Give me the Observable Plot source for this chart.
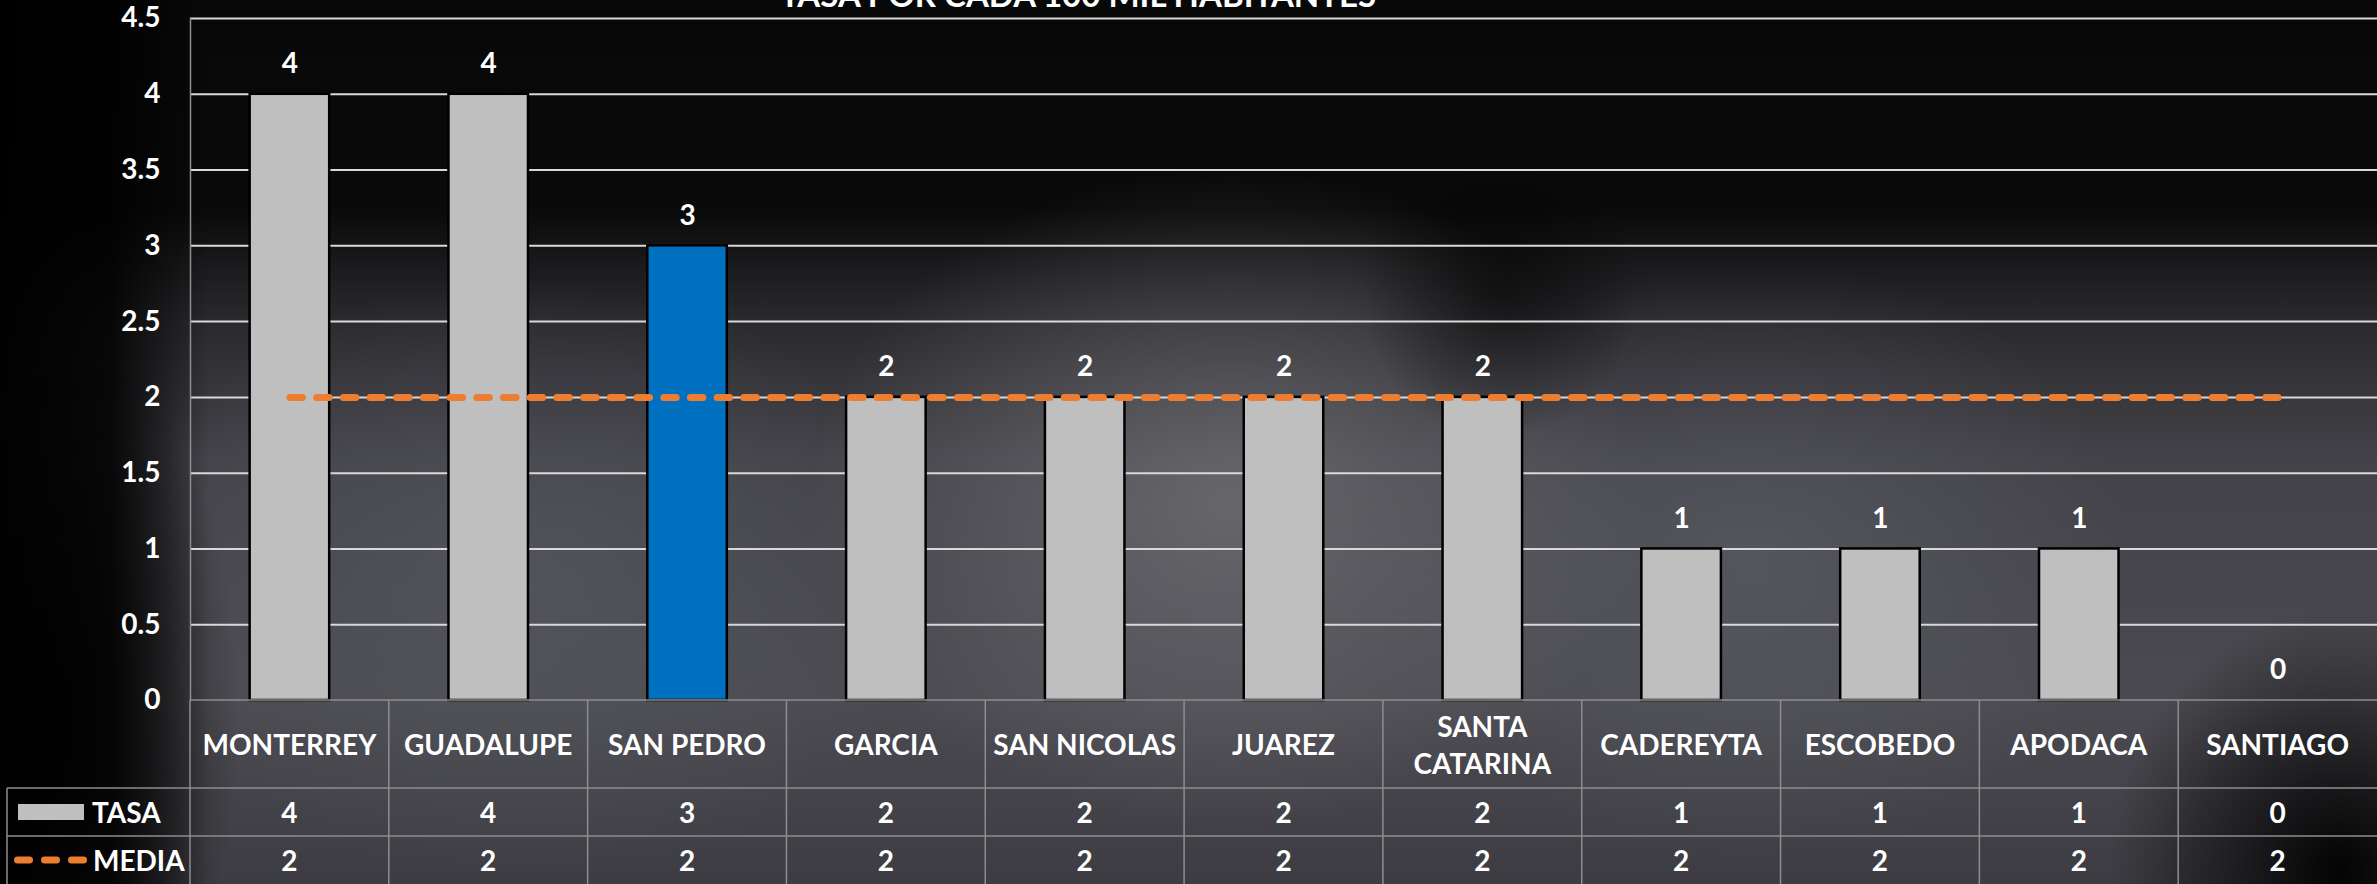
<!DOCTYPE html>
<html><head><meta charset="utf-8">
<script src="https://cdn.jsdelivr.net/npm/d3@7"></script>
<script src="https://cdn.jsdelivr.net/npm/@observablehq/plot@0.6"></script>
<style>
html,body{margin:0;padding:0;background:#050505;}
#wrap{position:relative;width:2377px;height:884px;overflow:hidden;
background:
 radial-gradient(ellipse 200px 400px at 40px 720px, rgba(0,0,0,0.9), rgba(0,0,0,0) 100%),
 linear-gradient(to right, rgba(0,0,0,0.97) 0px, rgba(0,0,0,0.85) 110px, rgba(0,0,0,0) 210px),
 radial-gradient(ellipse 230px 260px at 2340px 870px, rgba(0,0,0,0.95), rgba(0,0,0,0)),
 radial-gradient(ellipse 140px 150px at 1500px 290px, rgba(0,0,0,0.55), rgba(0,0,0,0)),
 radial-gradient(ellipse 420px 330px at 1230px 500px, rgba(125,125,130,0.6), rgba(0,0,0,0)),
 radial-gradient(ellipse 380px 300px at 1750px 560px, rgba(100,100,110,0.5), rgba(0,0,0,0)),
 radial-gradient(ellipse 420px 300px at 520px 580px, rgba(95,95,105,0.5), rgba(0,0,0,0)),
 linear-gradient(to bottom, #080808 0px, #0a0a0a 210px, #2a2a2e 320px, #424248 460px, #4a4a50 700px, #3c3c42 884px);}
#chart{position:absolute;left:0;top:0;}
#title{position:absolute;left:678px;width:800px;top:-22px;text-align:center;color:#fff;font:bold 33px Lato, sans-serif;line-height:1;white-space:nowrap;}
</style></head><body>
<div id="wrap"><div id="chart"></div><div id="title"></div></div>
<script>
const titulo = "TASA POR CADA 100 MIL HABITANTES";
const municipios = ["MONTERREY","GUADALUPE","SAN PEDRO","GARCIA","SAN NICOLAS","JUAREZ","SANTA CATARINA","CADEREYTA","ESCOBEDO","APODACA","SANTIAGO"];
const tasa = [4,4,3,2,2,2,2,1,1,1,0];
const media = [2,2,2,2,2,2,2,2,2,2,2];
const yTicks = [0,0.5,1,1.5,2,2.5,3,3.5,4,4.5];
const series = ["TASA","MEDIA"];
const destacado = "SAN PEDRO";

const data = municipios.map((m,i)=>({municipio:m, tasa:tasa[i], media:media[i]}));
document.getElementById("title").textContent = titulo;

const FONT = "Lato, 'Open Sans', sans-serif";
const gris = "#bfbfbf", azul = "#0070c0", naranja = "#ed7d31", linea = "#8e8e8e";

const plot = Plot.plot({
  width: 2377, height: 884,
  marginTop: 18, marginBottom: 184, marginLeft: 190, marginRight: 0,
  style: {background: "transparent", color: "#fff", fontFamily: FONT, fontWeight: "bold", overflow: "visible"},
  x: {domain: municipios, paddingInner: 0.6, paddingOuter: 0.3, round: false, axis: null},
  y: {domain: [0, 4.5], axis: null},
  marks: [
    Plot.gridY(yTicks.filter(d => d > 0), {stroke: "#d9d9d9", strokeOpacity: 1, strokeWidth: 2}),
    Plot.frame({anchor: "left", stroke: linea, strokeWidth: 1.5}),
    Plot.barY(data, {x: "municipio", y: "tasa", fill: d => d.municipio === destacado ? azul : gris, stroke: "#000", strokeWidth: 2.5}),
    Plot.lineY(data, {x: "municipio", y: "media", stroke: naranja, strokeWidth: 7, strokeDasharray: "12.5 14.2", strokeLinecap: "round"}),
    Plot.text(data, {x: "municipio", y: "tasa", text: d => String(d.tasa), dy: -30, fill: "#fff", fontSize: 28, fontWeight: "bold"}),
    Plot.axisY(yTicks, {tickSize: 0, tickPadding: 30, fontSize: 28, fontWeight: "bold", fill: "#fff", tickFormat: d => String(d)})
  ]
});
document.getElementById("chart").appendChild(plot);

// Data table under the chart, positioned with the plot's own scales
const xs = plot.scale("x"), ys = plot.scale("y");
const bw = xs.bandwidth, st = xs.step;
const center = m => xs.apply(m) + bw / 2;
const leftEdge = m => center(m) - st / 2;
const tTop = ys.apply(0);
const r1 = tTop + 88, r2 = r1 + 48, bot = 884;
const legLeft = 7, xRight = 2377;
const svg = d3.select(plot);
const g = svg.append("g").attr("font-family", FONT).attr("font-weight", "bold").attr("font-size", 28).attr("fill", "#fff");

// lines
const lines = g.append("g").attr("stroke", linea).attr("stroke-width", 1.5);
lines.append("line").attr("x1", leftEdge(municipios[0])).attr("x2", xRight).attr("y1", tTop).attr("y2", tTop);
[r1, r2].forEach(y => lines.append("line").attr("x1", legLeft).attr("x2", xRight).attr("y1", y).attr("y2", y));
municipios.forEach(m => lines.append("line").attr("x1", leftEdge(m)).attr("x2", leftEdge(m)).attr("y1", tTop).attr("y2", bot));
lines.append("line").attr("x1", legLeft).attr("x2", legLeft).attr("y1", r1).attr("y2", bot);

// category labels
const catY = (tTop + r1) / 2;
municipios.forEach(m => {
  const t = g.append("text").attr("x", center(m)).attr("y", catY).attr("text-anchor", "middle").attr("dominant-baseline", "central").text(m);
  if (t.node().getComputedTextLength() > st - 10 && m.includes(" ")) {
    t.text(null);
    const parts = m.split(" ");
    const lh = 37;
    parts.forEach((p, i) => t.append("tspan").attr("x", center(m)).attr("y", catY + (i - (parts.length - 1) / 2) * lh).attr("dominant-baseline", "central").text(p));
  }
});

// value rows
const rowY1 = (r1 + r2) / 2, rowY2 = (r2 + bot) / 2;
data.forEach(d => {
  g.append("text").attr("x", center(d.municipio)).attr("y", rowY1).attr("text-anchor", "middle").attr("dominant-baseline", "central").text(String(d.tasa));
  g.append("text").attr("x", center(d.municipio)).attr("y", rowY2).attr("text-anchor", "middle").attr("dominant-baseline", "central").text(String(d.media));
});

// legend keys
g.append("rect").attr("x", 18).attr("y", rowY1 - 8).attr("width", 66).attr("height", 16).attr("fill", gris);
g.append("text").attr("x", 92).attr("y", rowY1).attr("text-anchor", "start").attr("dominant-baseline", "central").text(series[0]);
g.append("line").attr("x1", 17.5).attr("x2", 83.5).attr("y1", rowY2).attr("y2", rowY2)
  .attr("stroke", naranja).attr("stroke-width", 7).attr("stroke-dasharray", "12 15").attr("stroke-linecap", "round");
g.append("text").attr("x", 93).attr("y", rowY2).attr("text-anchor", "start").attr("dominant-baseline", "central").text(series[1]);
</script>
</body></html>
